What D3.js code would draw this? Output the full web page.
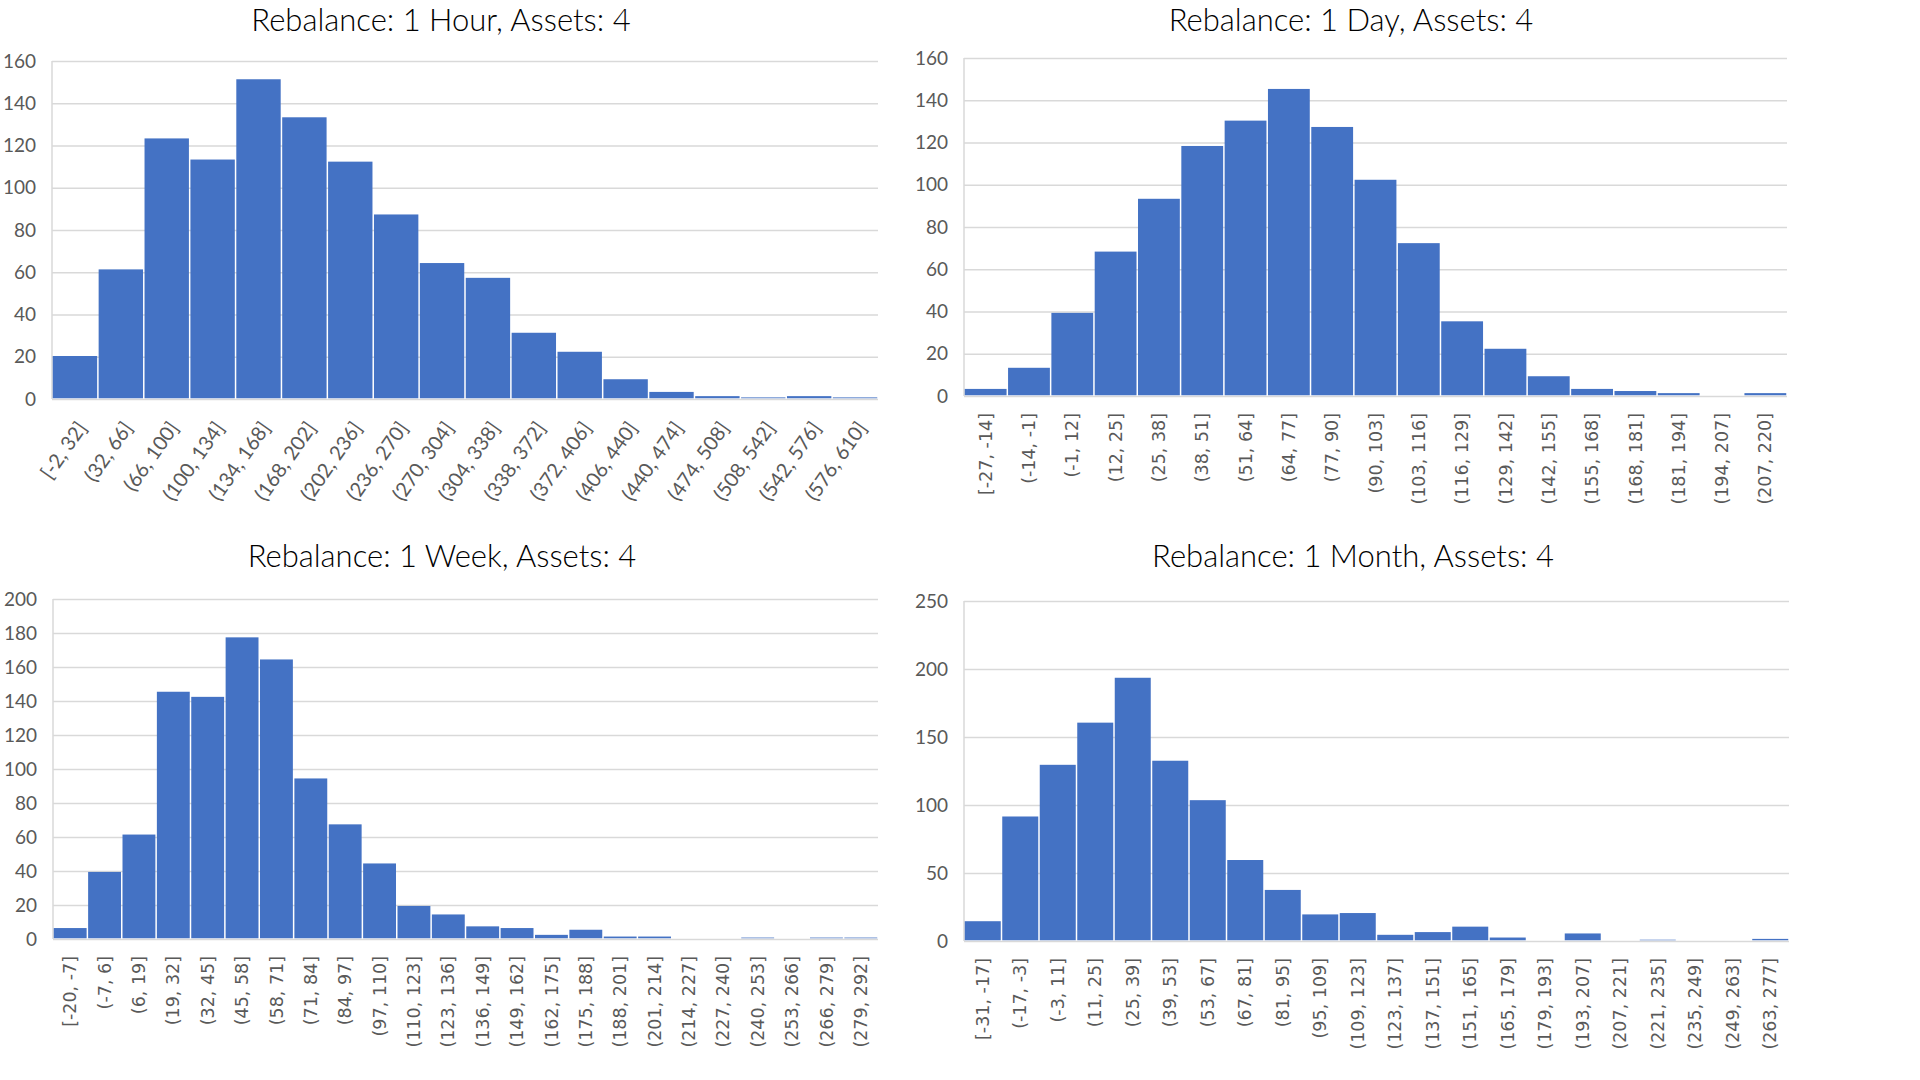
<!DOCTYPE html>
<html>
<head>
<meta charset="utf-8">
<script src="https://cdn.jsdelivr.net/npm/d3@7"></script>
<style>
  html, body { margin: 0; padding: 0; background: #fff; }
  svg { display: block; }
</style>
</head>
<body>
<svg id="chart" width="1920" height="1080"></svg>
<script>
// bin labels and counts
const hourBins = ['[-2, 32]', '(32, 66]', '(66, 100]', '(100, 134]', '(134, 168]', '(168, 202]',
  '(202, 236]', '(236, 270]', '(270, 304]', '(304, 338]', '(338, 372]', '(372, 406]',
  '(406, 440]', '(440, 474]', '(474, 508]', '(508, 542]', '(542, 576]', '(576, 610]'];
const hourCounts = [20, 61, 123, 113, 151, 133, 112, 87, 64, 57, 31, 22, 9, 3, 1, 0.4, 1, 0.4];
const hourTicks = [0, 20, 40, 60, 80, 100, 120, 140, 160];

const dayBins = ['[-27, -14]', '(-14, -1]', '(-1, 12]', '(12, 25]', '(25, 38]', '(38, 51]',
  '(51, 64]', '(64, 77]', '(77, 90]', '(90, 103]', '(103, 116]', '(116, 129]', '(129, 142]',
  '(142, 155]', '(155, 168]', '(168, 181]', '(181, 194]', '(194, 207]', '(207, 220]'];
const dayCounts = [3, 13, 39, 68, 93, 118, 130, 145, 127, 102, 72, 35, 22, 9, 3, 2, 1, 0, 1];
const dayTicks = [0, 20, 40, 60, 80, 100, 120, 140, 160];

const weekBins = ['[-20, -7]', '(-7, 6]', '(6, 19]', '(19, 32]', '(32, 45]', '(45, 58]',
  '(58, 71]', '(71, 84]', '(84, 97]', '(97, 110]', '(110, 123]', '(123, 136]', '(136, 149]',
  '(149, 162]', '(162, 175]', '(175, 188]', '(188, 201]', '(201, 214]', '(214, 227]',
  '(227, 240]', '(240, 253]', '(253, 266]', '(266, 279]', '(279, 292]'];
const weekCounts = [6, 39, 61, 145, 142, 177, 164, 94, 67, 44, 19, 14, 7, 6, 2, 5, 1, 1, 0, 0, 0.4, 0, 0.4, 0.4];
const weekTicks = [0, 20, 40, 60, 80, 100, 120, 140, 160, 180, 200];

const monthBins = ['[-31, -17]', '(-17, -3]', '(-3, 11]', '(11, 25]', '(25, 39]', '(39, 53]',
  '(53, 67]', '(67, 81]', '(81, 95]', '(95, 109]', '(109, 123]', '(123, 137]', '(137, 151]',
  '(151, 165]', '(165, 179]', '(179, 193]', '(193, 207]', '(207, 221]', '(221, 235]',
  '(235, 249]', '(249, 263]', '(263, 277]'];
const monthCounts = [14, 91, 129, 160, 193, 132, 103, 59, 37, 19, 20, 4, 6, 10, 2, 0, 5, 0, 0.4, 0, 0, 1];
const monthTicks = [0, 50, 100, 150, 200, 250];

const titles = [
  'Rebalance: 1 Hour, Assets: 4',
  'Rebalance: 1 Day, Assets: 4',
  'Rebalance: 1 Week, Assets: 4',
  'Rebalance: 1 Month, Assets: 4'
];

const svg = d3.select('#chart');

const barColor = '#4472c4';
const gridColor = '#d9d9d9';
const labelColor = '#595959';

function drawHistogram(props) {
  const { title, bins, counts, ticks, left, right, top, bottom, titleX, titleY, angled } = props;
  const g = svg.append('g');

  const x = d3.scaleBand().domain(bins).range([left, right]).padding(0);
  const y = d3.scaleLinear().domain([0, ticks[ticks.length - 1]]).range([bottom, top]);

  // horizontal gridlines
  g.append('g')
    .attr('transform', `translate(${left},0)`)
    .call(d3.axisLeft(y).tickValues(ticks).tickSize(-(right - left)).tickFormat(''))
    .call(s => s.select('.domain').remove())
    .call(s => s.selectAll('line').attr('stroke', gridColor).attr('stroke-width', 1.5));

  // left axis line
  g.append('line')
    .attr('x1', left).attr('x2', left)
    .attr('y1', top).attr('y2', bottom)
    .attr('stroke', gridColor)
    .attr('stroke-width', 1.5);

  // bars, with a thin white gap between neighbours
  g.append('g')
    .selectAll('rect')
    .data(counts)
    .join('rect')
    .attr('x', (d, i) => x(bins[i]) + 0.75)
    .attr('width', x.bandwidth() - 1.5)
    .attr('y', d => y(d) - 0.75)
    .attr('height', d => Math.max(0, y(0) - y(d)))
    .attr('fill', barColor);

  // y tick labels
  g.append('g')
    .attr('transform', `translate(${left},0)`)
    .call(d3.axisLeft(y).tickValues(ticks).tickSize(0).tickPadding(16))
    .call(s => s.select('.domain').remove())
    .call(s => s.selectAll('text')
      .attr('fill', labelColor)
      .style('font-family', 'Lato, sans-serif')
      .style('font-size', '19px'));

  // x tick labels
  const xAxis = g.append('g')
    .attr('transform', `translate(0,${bottom})`)
    .call(d3.axisBottom(x).tickSize(0))
    .call(s => s.select('.domain').remove());

  if (angled) {
    xAxis.selectAll('text')
      .attr('x', 0).attr('y', 0).attr('dy', '0.35em')
      .attr('text-anchor', 'end')
      .attr('transform', 'translate(7,25) rotate(-55)')
      .attr('fill', labelColor)
      .style('font-family', 'Lato, sans-serif')
      .style('font-size', '20px');
  } else {
    xAxis.selectAll('text')
      .attr('x', 0).attr('y', 0).attr('dy', '0.35em')
      .attr('text-anchor', 'end')
      .attr('transform', 'translate(0,17) rotate(-90)')
      .attr('fill', labelColor)
      .style('font-family', '"DejaVu Sans", sans-serif')
      .style('font-size', '17.5px');
  }

  // title
  g.append('text')
    .attr('x', titleX)
    .attr('y', titleY)
    .attr('text-anchor', 'middle')
    .attr('fill', '#000')
    .style('font-family', 'Lato, sans-serif')
    .style('font-weight', 300)
    .style('font-size', '31px')
    .text(title);
}

drawHistogram({
  title: titles[0], bins: hourBins, counts: hourCounts, ticks: hourTicks,
  left: 52, right: 878, top: 61, bottom: 399, titleX: 441, titleY: 31, angled: true
});
drawHistogram({
  title: titles[1], bins: dayBins, counts: dayCounts, ticks: dayTicks,
  left: 964, right: 1787, top: 58, bottom: 396, titleX: 1351, titleY: 31, angled: false
});
drawHistogram({
  title: titles[2], bins: weekBins, counts: weekCounts, ticks: weekTicks,
  left: 53, right: 878, top: 599, bottom: 939, titleX: 442, titleY: 567, angled: false
});
drawHistogram({
  title: titles[3], bins: monthBins, counts: monthCounts, ticks: monthTicks,
  left: 964, right: 1789, top: 601, bottom: 941, titleX: 1353, titleY: 567, angled: false
});
</script>
</body>
</html>
